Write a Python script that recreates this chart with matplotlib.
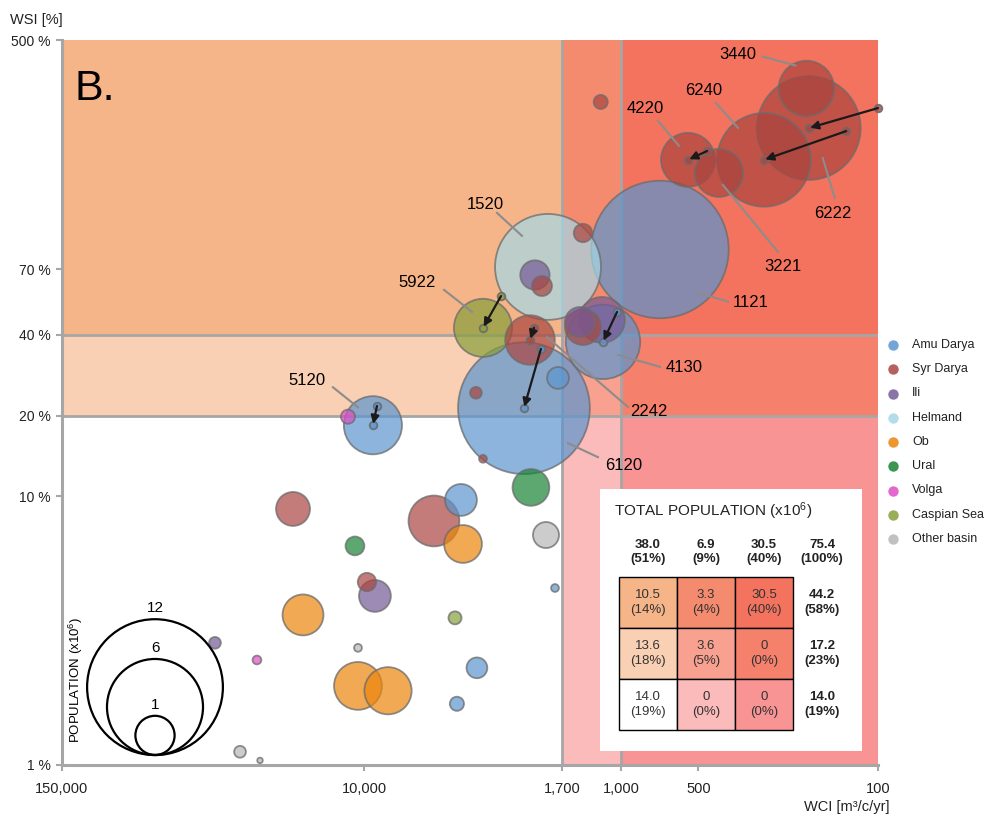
import numpy as np
import matplotlib.pyplot as plt
from matplotlib.patches import Rectangle, Circle
from matplotlib.lines import Line2D
from matplotlib.colors import to_rgba

plt.rcParams['font.family'] = ['Liberation Sans', 'DejaVu Sans']
plt.rcParams['mathtext.default'] = 'regular'

# basins
basins = ['Amu Darya', 'Syr Darya', 'Ili', 'Helmand', 'Ob', 'Ural', 'Volga',
          'Caspian Sea', 'Other basin']
basin_colors = ['#5B95CF', '#AA4540', '#745A98', '#A5D8E6', '#EC850C',
                '#188434', '#E04CC5', '#86A03A', '#B7B7B7']

# bubbles: basin, WCI [m3/c/yr], WSI [%], population [x10^6], code label
bub_basin = ['Syr Darya', 'Syr Darya', 'Syr Darya', 'Syr Darya', 'Syr Darya',
             'Syr Darya', 'Amu Darya', 'Helmand', 'Syr Darya', 'Ili',
             'Syr Darya', 'Caspian Sea', 'Syr Darya', 'Syr Darya', 'Amu Darya',
             'Amu Darya', 'Syr Darya', 'Ural', 'Ili', 'Syr Darya',
             'Ili', 'Amu Darya', 'Amu Darya', 'Volga', 'Syr Darya',
             'Ural', 'Syr Darya', 'Amu Darya', 'Ob', 'Other basin',
             'Amu Darya', 'Caspian Sea', 'Amu Darya', 'Amu Darya', 'Syr Darya',
             'Ili', 'Ob', 'Ili', 'Volga', 'Other basin',
             'Ob', 'Ob', 'Other basin', 'Other basin']
bub_wci = [1200, 190, 186, 278, 549,
           416, 706, 1925, 1407, 2164,
           2032, 3447, 2262, 3673, 2388,
           1760, 3447, 2243, 1187, 1407,
           1446, 1176, 9245, 11560, 18920,
           10860, 5350, 4200, 4124, 1960,
           1808, 4430, 3640, 4355, 9750,
           9080, 17300, 38080, 26140, 10570,
           10570, 8075, 30420, 25430]
bub_wsi = [294, 330, 235, 179, 179,
           160, 83, 71.5, 95.6, 66.7,
           60.7, 42.4, 38.2, 24.3, 21.3,
           27.6, 13.8, 10.8, 45.4, 42.7,
           44.6, 37.6, 18.4, 19.8, 8.98,
           6.54, 8.1, 9.7, 6.65, 7.18,
           4.56, 3.53, 2.30, 1.69, 4.8,
           4.26, 3.62, 2.85, 2.46, 2.73,
           1.97, 1.89, 1.12, 1.04]
bub_pop = [0.13, 2.0, 7.0, 5.7, 1.9,
           1.5, 12.3, 7.3, 0.22, 0.56,
           0.26, 2.2, 1.6, 0.09, 11.3,
           0.31, 0.04, 0.88, 1.37, 0.84,
           0.58, 3.6, 2.2, 0.13, 0.75,
           0.23, 1.68, 0.66, 0.93, 0.44,
           0.04, 0.11, 0.28, 0.13, 0.22,
           0.66, 1.09, 0.09, 0.05, 0.04,
           1.49, 1.45, 0.09, 0.02]
bub_code = ['', '3440', '6222', '6240', '4220',
            '3221', '1121', '1520', '', '',
            '', '5922', '2242', '', '6120',
            '', '', '', '', '',
            '', '4130', '5120', '', '',
            '', '', '', '', '',
            '', '', '', '', '',
            '', '', '', '', '',
            '', '', '', '']

# units that moved: previous position
move_code = ['6222', '6240', '4220', '5922', '2242', '6120', '4130', '5120']
move_wci_old = [100, 133, 463, 2933, 2183, 2051, 1037, 8917]
move_wsi_old = [279, 229, 193, 55.7, 42.4, 35.4, 48.6, 21.7]

# table of total population per zone
col_tot = [38.0, 6.9, 30.5, 75.4]
col_pct = [51, 9, 40, 100]
cell_val = [[10.5, 3.3, 30.5], [13.6, 3.6, 0], [14.0, 0, 0]]
cell_pct = [[14, 4, 40], [18, 5, 0], [19, 0, 0]]
row_tot = [44.2, 17.2, 14.0]
row_pct = [58, 23, 19]

# zones
wci_edges = [150000, 1700, 1000, 100]
wsi_edges = [500, 40, 20, 1]
zone_colors = [['#F6B489', '#F58B6E', '#F4735E'],
               ['#F9D0B3', '#F8A190', '#F5806C'],
               ['#FFFFFF', '#FBBBBB', '#F99494']]

W, H = 992, 818
fig = plt.figure(figsize=(W / 100, H / 100), dpi=100)
ax = fig.add_axes([62 / W, 53 / H, 816 / W, 725 / H])
ax.set_xscale('log')
ax.set_yscale('log')
ax.set_xlim(150000, 100)
ax.set_ylim(1, 500)

for i in range(3):
    for j in range(3):
        ax.fill_between([wci_edges[j], wci_edges[j + 1]], wsi_edges[i + 1], wsi_edges[i],
                        color=zone_colors[i][j], lw=0, zorder=0)

grid_c = '#A6A6A6'
for v in wci_edges[1:3]:
    ax.axvline(v, color=grid_c, lw=2, zorder=1)
for v in wsi_edges[1:3]:
    ax.axhline(v, color=grid_c, lw=2, zorder=1)

# bubbles, biggest first
cmap = dict(zip(basins, basin_colors))
k = 19.6  # px per sqrt(million)
s_fac = (2 * k * 0.72) ** 2
order = np.argsort(bub_pop)[::-1]
wci = np.array(bub_wci, float)[order]
wsi = np.array(bub_wsi, float)[order]
pop = np.array(bub_pop, float)[order]
fc = [to_rgba(cmap[bub_basin[i]], 0.7) for i in order]
ax.scatter(wci, wsi, s=pop * s_fac, c=fc, edgecolors=(0.42, 0.42, 0.42, 0.75),
           linewidths=1.3, zorder=3)

# moves
for code, xo, yo in zip(move_code, move_wci_old, move_wsi_old):
    i = bub_code.index(code)
    col = cmap[bub_basin[i]]
    ax.scatter([xo, bub_wci[i]], [yo, bub_wsi[i]], s=30, color=to_rgba(col, 0.8),
               edgecolors=(0.42, 0.42, 0.42, 0.9), linewidths=1.3, zorder=5, clip_on=False)
    ax.annotate('', xy=(bub_wci[i], bub_wsi[i]), xytext=(xo, yo),
                arrowprops=dict(arrowstyle='-|>', color='#1A1A1A', lw=1.6,
                                mutation_scale=12, shrinkA=0, shrinkB=1),
                zorder=6)

# code labels: text offset, leader line start and end (pixels from bubble centre)
label_layout = {
    '3440': ((-69, -34), (-44, -32), (-11, -23)),
    '6240': ((-60, -69), (-48, -57), (-26, -32)),
    '4220': ((-43, -51), (-30, -39), (-9, -14)),
    '6222': ((24, 85), (14, 30), (26, 70)),
    '3221': ((64, 94), (4, 12), (59, 79)),
    '1520': ((-63, -62), (-51, -54), (-26, -31)),
    '5922': ((-66, -45), (-39, -38), (-11, -16)),
    '1121': ((91, 53), (37, 43), (68, 52)),
    '4130': ((81, 26), (15, 13), (57, 25)),
    '2242': ((119, 71), (17, -3), (98, 67)),
    '6120': ((100, 57), (44, 35), (74, 49)),
    '5120': ((-66, -45), (-40, -38), (-15, -18)),
}


def shift(x, y, dx, dy):
    X, Y = ax.transData.transform((x, y))
    return ax.transData.inverted().transform((X + dx, Y - dy))


for i, code in enumerate(bub_code):
    if not code:
        continue
    t, a, b = label_layout[code]
    tx, ty = shift(bub_wci[i], bub_wsi[i], *t)
    ax.text(tx, ty, code, fontsize=12, ha='center', va='center', zorder=7)
    p1 = shift(bub_wci[i], bub_wsi[i], *a)
    p2 = shift(bub_wci[i], bub_wsi[i], *b)
    ax.plot([p1[0], p2[0]], [p1[1], p2[1]], color='#8C8C8C', lw=1.5, zorder=4)

# axes styling
for side in ['top', 'right']:
    ax.spines[side].set_visible(False)
for side in ['left', 'bottom']:
    ax.spines[side].set_color(grid_c)
    ax.spines[side].set_linewidth(2.2)
xt = [150000, 10000, 1700, 1000, 500, 100]
yt = [1, 10, 20, 40, 70, 500]
ax.set_xticks(xt)
ax.set_xticklabels(['150,000', '10,000', '1,700', '1,000', '500', '100'])
ax.set_yticks(yt)
ax.set_yticklabels(['1 %', '10 %', '20 %', '40 %', '70 %', '500 %'])
ax.minorticks_off()
ax.tick_params(axis='both', colors=grid_c, length=4, width=1.5, labelcolor='#222222')
ax.tick_params(axis='x', labelsize=10.5, pad=8)
ax.tick_params(axis='y', labelsize=10, pad=4)

ax.text(0.015, 0.96, 'B.', transform=ax.transAxes, fontsize=31, va='top', ha='left', zorder=8)
fig.text(10 / W, 1 - 20 / H, 'WSI [%]', fontsize=10.5, va='center', ha='left', color='#222222')
fig.text(890 / W, 1 - 807 / H, 'WCI [m³/c/yr]', fontsize=10.5, va='center', ha='right', color='#222222')

# overlay in pixel units for the legends and the table
ov = fig.add_axes([0, 0, 1, 1], zorder=5)
ov.set_xlim(0, W)
ov.set_ylim(H, 0)
ov.axis('off')
ov.patch.set_alpha(0)

# population size legend
for p in [12, 6, 1]:
    r = k * np.sqrt(p)
    ov.add_patch(Circle((155, 755 - r), r, fill=False, ec='black', lw=1.6))
    ov.text(155, 755 - 2 * r - 11, str(p), fontsize=11, ha='center', va='center')
ov.text(76, 680, 'POPULATION (x10$^6$)', rotation=90, fontsize=9.5, ha='center', va='center')

# basin legend
for n, (name, col) in enumerate(zip(basins, basin_colors)):
    y = 345 + n * 24.25
    ov.add_line(Line2D([893], [y], marker='o', markersize=7.5, color=to_rgba(col, 0.85), mec='none'))
    ov.text(912, y, name, fontsize=9, va='center', ha='left', color='#222222')

# population table
ov.add_patch(Rectangle((600, 489), 262, 262, fc='white', ec='none'))
ov.text(614, 511, 'TOTAL POPULATION (x10$^6$)', fontsize=11, va='center', ha='left', color='#222222')
col_x = [648, 706, 764, 822]
for c in range(4):
    ov.text(col_x[c], 552, f'{col_tot[c]:.1f}\n({col_pct[c]}%)', fontsize=9.5,
            fontweight='bold', ha='center', va='center', linespacing=1.25, color='#222222')
cx0, cw = 619, 58
ry0, rh = 577, 51
for r in range(3):
    for c in range(3):
        ov.add_patch(Rectangle((cx0 + c * cw, ry0 + r * rh), cw, rh,
                               fc=zone_colors[r][c], ec='black', lw=1))
        v = cell_val[r][c]
        txt = '0' if v == 0 else f'{v:.1f}'
        ov.text(cx0 + c * cw + cw / 2, ry0 + r * rh + rh / 2, f'{txt}\n({cell_pct[r][c]}%)',
                fontsize=9.5, ha='center', va='center', linespacing=1.25, color='#333333')
    ov.text(col_x[3], ry0 + r * rh + rh / 2, f'{row_tot[r]:.1f}\n({row_pct[r]}%)', fontsize=9.5,
            fontweight='bold', ha='center', va='center', linespacing=1.25, color='#222222')

fig.savefig('out.png', dpi=100)
